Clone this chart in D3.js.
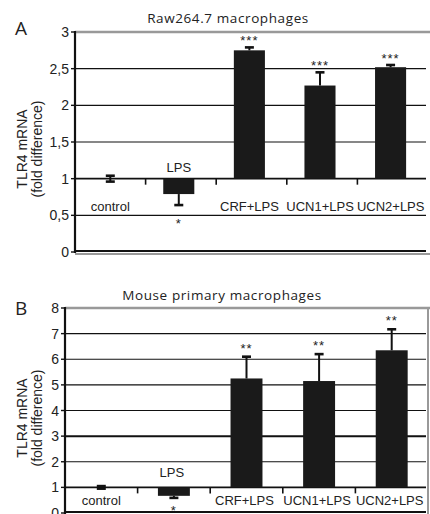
<!DOCTYPE html>
<html lang="en">
<head>
<meta charset="utf-8">
<title>TLR4 mRNA</title>
<script src="https://cdn.jsdelivr.net/npm/d3@7/dist/d3.min.js"></script>
<style>
  body { margin: 0; background: #fff; }
  .tick-lbl { font-family: "Liberation Sans", Arial, sans-serif; font-size: 14px; }
  .cat { font-family: "Liberation Sans", Arial, sans-serif; font-size: 13px; }
  .ttl { font-family: "Open Sans", "Noto Sans", sans-serif; font-size: 13.5px; letter-spacing: 0.6px; }
  .pl { font-family: "Open Sans", "Noto Sans", sans-serif; font-size: 19px; }
</style>
</head>
<body>
<script>
// data
var categories = ["control", "LPS", "CRF+LPS", "UCN1+LPS", "UCN2+LPS"];

var rawValues = [1.0, 0.79, 2.75, 2.27, 2.52];
var rawErrors = [0.04, 0.15, 0.04, 0.18, 0.03];
var rawStars = ["", "*", "***", "***", "***"];
var rawTicks = [0, 0.5, 1, 1.5, 2, 2.5, 3];

var mouseValues = [1.0, 0.67, 5.25, 5.15, 6.35];
var mouseErrors = [0.05, 0.08, 0.85, 1.05, 0.82];
var mouseStars = ["", "*", "**", "**", "**"];
var mouseTicks = [0, 1, 2, 3, 4, 5, 6, 7, 8];

var svg = d3.select("body").append("svg")
    .attr("width", 430)
    .attr("height", 514);

function drawPanel(o) {
  var g = svg.append("g");

  var y = d3.scaleLinear().domain([0, d3.max(o.ticks)]).range([o.bottom, o.top]);
  var x = d3.scaleBand().domain(categories).range([o.left, o.right]).padding(0);
  var bw = x.bandwidth();

  // fmt with comma decimals
  var fmt = function(v) { return String(v).replace(".", ","); };

  // gridlines
  g.selectAll(".grid").data(o.ticks.filter(function(t) { return t > 0 && t < d3.max(o.ticks) && t != 1; }))
    .enter().append("line")
    .attr("x1", o.left).attr("x2", o.right - 2)
    .attr("y1", function(d) { return y(d); }).attr("y2", function(d) { return y(d); })
    .attr("stroke", "#111")
    .attr("stroke-width", function(d) { return d == o.thick ? 2 : 1.2; });

  // frame (gray)
  g.append("line").attr("x1", o.left).attr("x2", 430)
    .attr("y1", y(d3.max(o.ticks))).attr("y2", y(d3.max(o.ticks)))
    .attr("stroke", "#999").attr("stroke-width", 2.5);
  if (o.rightFrame) {
    g.append("line").attr("x1", o.right).attr("x2", o.right)
      .attr("y1", y(d3.max(o.ticks))).attr("y2", 514)
      .attr("stroke", "#999").attr("stroke-width", 2);
  }
  // bottom zero line
  g.append("line").attr("x1", o.left).attr("x2", 430)
    .attr("y1", y(0) + 2).attr("y2", y(0) + 2)
    .attr("stroke", "#999").attr("stroke-width", 2);
  g.append("line").attr("x1", o.left).attr("x2", o.right - 2)
    .attr("y1", y(0) - 1).attr("y2", y(0) - 1)
    .attr("stroke", "#111").attr("stroke-width", 2.2);

  // x axis at y = 1
  g.append("line").attr("x1", o.left).attr("x2", o.right - 2)
    .attr("y1", y(1)).attr("y2", y(1))
    .attr("stroke", "#111").attr("stroke-width", 1.6);
  g.selectAll(".xt").data(categories.slice(1)).enter().append("line")
    .attr("x1", function(d) { return x(d); }).attr("x2", function(d) { return x(d); })
    .attr("y1", y(1)).attr("y2", y(1) + 6)
    .attr("stroke", "#111").attr("stroke-width", 1.6);

  // y axis
  g.append("line").attr("x1", o.left).attr("x2", o.left)
    .attr("y1", y(d3.max(o.ticks)) - 1).attr("y2", y(0) + 1)
    .attr("stroke", "#111").attr("stroke-width", 2.2);
  g.selectAll(".yt").data(o.ticks).enter().append("line")
    .attr("x1", o.left - 4).attr("x2", o.left)
    .attr("y1", function(d) { return y(d); }).attr("y2", function(d) { return y(d); })
    .attr("stroke", "#111").attr("stroke-width", 1.4);
  g.selectAll(".yl").data(o.ticks).enter().append("text")
    .attr("class", "tick-lbl")
    .attr("x", o.left - 6).attr("y", function(d) { return y(d) + 5; })
    .attr("text-anchor", "end")
    .attr("font-size", o.tickSize)
    .attr("fill", "#222")
    .text(fmt);

  // bar x position
  function bx(d, i) { return i == 0 ? x(d) + bw * 0.5 : x(d) + bw * o.barOff + bw * 0.22; }

  // bars
  g.selectAll(".bar").data(categories).enter().append("rect")
    .attr("x", function(d, i) { return bx(d, i) - bw * 0.22; })
    .attr("width", bw * 0.44)
    .attr("y", function(d, i) { return Math.min(y(o.values[i]), y(1)); })
    .attr("height", function(d, i) { return Math.abs(y(o.values[i]) - y(1)); })
    .attr("fill", "#1a1a1a");

  // error bars
  g.selectAll(".err").data(categories).enter().append("g")
    .each(function(d, i) {
      var v = o.values[i], e = o.errors[i], cx = bx(d, i);
      var el = d3.select(this);
      var ends = i == 0 ? [v - e, v + e] : (v < 1 ? [v, v - e] : [v, v + e]);
      el.append("line").attr("x1", cx).attr("x2", cx)
        .attr("y1", y(ends[0])).attr("y2", y(ends[1]))
        .attr("stroke", "#111").attr("stroke-width", 2);
      var caps = i == 0 ? ends : [ends[1]];
      caps.forEach(function(c) {
        el.append("line").attr("x1", cx - 4.5).attr("x2", cx + 4.5)
          .attr("y1", y(c)).attr("y2", y(c))
          .attr("stroke", "#111").attr("stroke-width", 2.6);
      });
    });

  // significance stars
  g.selectAll(".star").data(categories).enter().append("text")
    .attr("class", "cat")
    .attr("x", function(d, i) { return bx(d, i); })
    .attr("y", function(d, i) {
      var v = o.values[i], e = o.errors[i];
      return v < 1 ? y(v - e) + o.lowStarDy : y(v + e) - o.starGap;
    })
    .attr("text-anchor", "middle")
    .attr("font-size", "16px")
    .attr("letter-spacing", "1px")
    .attr("fill", "#222")
    .text(function(d, i) { return o.stars[i]; });

  // category labels
  g.selectAll(".cl").data(categories).enter().append("text")
    .attr("class", "cat")
    .attr("x", function(d) { return x(d) + bw / 2 + (d == "control" ? 0 : -2); })
    .attr("y", function(d) { return d == "LPS" ? o.lpsY : o.labelY; })
    .attr("text-anchor", "middle")
    .attr("font-size", function(d) { return d == "LPS" ? o.lpsSize : "13px"; })
    .attr("fill", "#222")
    .text(function(d) { return d; });

  // y label
  var yl = g.append("text")
    .attr("class", "tick-lbl")
    .attr("transform", "translate(" + 27 + "," + o.labelMid + ") rotate(-90)")
    .attr("text-anchor", "middle")
    .attr("font-size", "14.5px")
    .attr("fill", "#222");
  yl.append("tspan").attr("x", 0).attr("dy", 0).text("TLR4 mRNA");
  yl.append("tspan").attr("x", 0).attr("dy", 15).text("(fold difference)");

  // title and panel letter
  g.append("text").attr("class", "ttl")
    .attr("x", o.titleX).attr("y", o.titleY)
    .attr("text-anchor", "middle").attr("fill", "#222")
    .text(o.title);
  g.append("text").attr("class", "pl")
    .attr("x", 15).attr("y", o.letterY)
    .attr("fill", "#222")
    .text(o.letter);
}

drawPanel({
  letter: "A", letterY: 35,
  title: "Raw264.7 macrophages", titleX: 228, titleY: 23,
  ticks: rawTicks, values: rawValues, errors: rawErrors, stars: rawStars,
  left: 75, right: 428, top: 32, bottom: 252,
  barOff: 0.25, thick: null, rightFrame: false, tickSize: "15px",
  labelY: 211, lpsY: 172, lpsSize: "14.5px",
  starGap: 2, lowStarDy: 23,
  labelMid: 149
});

drawPanel({
  letter: "B", letterY: 315,
  title: "Mouse primary macrophages", titleX: 222, titleY: 300,
  ticks: mouseTicks, values: mouseValues, errors: mouseErrors, stars: mouseStars,
  left: 65, right: 428, top: 308, bottom: 513,
  barOff: 0.28, thick: 3, rightFrame: true, tickSize: "14px",
  labelY: 505, lpsY: 477, lpsSize: "13.5px",
  starGap: 4, lowStarDy: 17,
  labelMid: 418
});
</script>
</body>
</html>
